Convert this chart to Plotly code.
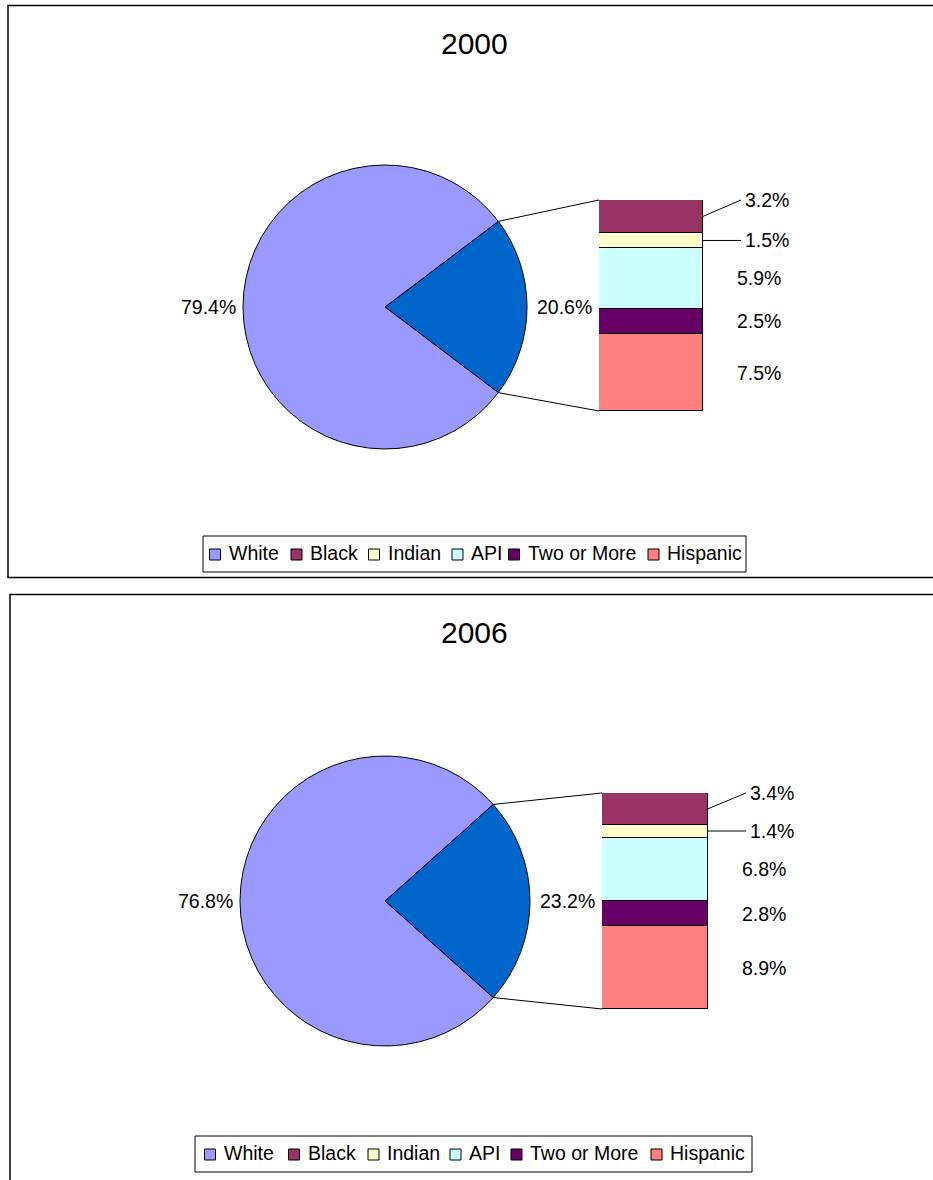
import math
import plotly.graph_objects as go

# ---------------- data ----------------
categories = ["White", "Black", "Indian", "API", "Two or More", "Hispanic"]
colors = ["#9999FF", "#993366", "#FFFFCC", "#CCFFFF", "#660066", "#FF8080"]
other_color = "#0066CC"

years = ["2000", "2006"]
white_share = [79.4, 76.8]
other_share = [20.6, 23.2]
# breakdown of the "other" slice (Black, Indian, API, Two or More, Hispanic)
breakdown_2000 = [3.2, 1.5, 5.9, 2.5, 7.5]
breakdown_2006 = [3.4, 1.4, 6.8, 2.8, 8.9]
breakdowns = [breakdown_2000, breakdown_2006]

# ---------------- layout constants (pixels) ----------------
W, H = 933, 1180
FONT = "Liberation Sans, Arial, sans-serif"
LABEL_SIZE = 19.5
panels = [
    dict(cx=385, cy=307, r=142, bx=(599, 703), by=(200, 411), title_xy=(474, 43),
         border=(8, 5.5, 945, 577.5), legend_box=(203, 746, 536, 572),
         legend_sq=[209.5, 291, 368.5, 452, 508.5, 648]),
    dict(cx=385, cy=901, r=145, bx=(602, 708), by=(793, 1009), title_xy=(474, 632),
         border=(10, 594.5, 945, 1200), legend_box=(195, 752, 1136, 1172),
         legend_sq=[204.5, 288.5, 368, 450, 511, 651]),
]

fig = go.Figure()
shapes = []
annotations = []


def label(x, y, text, anchor="left", size=LABEL_SIZE):
    annotations.append(dict(x=x, y=y, xref="x", yref="y", text=text, showarrow=False,
                            xanchor=anchor, yanchor="middle",
                            font=dict(size=size, color="black", family=FONT)))


for i, (year, wv, ov, parts, P) in enumerate(zip(years, white_share, other_share, breakdowns, panels)):
    cx, cy, r = P["cx"], P["cy"], P["r"]
    # pie
    frac = ov / (ov + wv)
    fig.add_trace(go.Pie(
        values=[ov, wv], labels=["Other", "White"], sort=False, direction="clockwise",
        rotation=90 - frac * 180,
        marker=dict(colors=[other_color, colors[0]], line=dict(color="black", width=1)),
        textinfo="none", showlegend=False, hoverinfo="label+value",
        domain=dict(x=[(cx - r) / W, (cx + r) / W], y=[1 - (cy + r) / H, 1 - (cy - r) / H]),
    ))
    # pie labels
    label(cx - r - 5, cy, f"{wv:.1f}%", anchor="right")
    label(cx + r + 8, cy, f"{ov:.1f}%", anchor="left")

    # stacked bar on its own axis
    ax = i + 2
    xa, ya = f"x{ax}", f"y{ax}"
    total = sum(parts)
    bx0, bx1 = P["bx"]
    by0, by1 = P["by"]
    for name, val, col in reversed(list(zip(categories[1:], parts, colors[1:]))):
        fig.add_trace(go.Bar(x=[0], y=[val], width=1, name=name,
                             marker=dict(color=col, line=dict(color="black", width=1)),
                             xaxis=xa, yaxis=ya, showlegend=False, hoverinfo="name+y"))
    fig.layout[f"xaxis{ax}"] = dict(domain=[bx0 / W, bx1 / W], range=[-0.5, 0.5], visible=False,
                                    fixedrange=True, anchor=ya)
    fig.layout[f"yaxis{ax}"] = dict(domain=[1 - by1 / H, 1 - by0 / H], range=[0, total], visible=False,
                                    fixedrange=True, anchor=xa)

    def ypix(v):
        return by1 - v / total * (by1 - by0)

    cum_from_top = 0
    for k, val in enumerate(parts):
        top_v = total - cum_from_top
        bot_v = top_v - val
        mid = (ypix(top_v) + ypix(bot_v)) / 2
        cum_from_top += val
        if k in (0, 1):
            ly = by0 if k == 0 else mid
            lx = bx1 + 40
            fig.add_trace(go.Scatter(x=[bx1, lx - 2], y=[mid, ly], mode="lines",
                                     line=dict(color="black", width=1), showlegend=False, hoverinfo="skip"))
            label(lx, ly, f"{val:.1f}%")
        else:
            label(bx1 + 32, mid, f"{val:.1f}%")

    # connector lines from pie slice edge to bar corners
    half = frac * math.pi
    for sgn, yb in ((1, by0), (-1, by1)):
        px = cx + r * math.cos(half)
        py = cy - sgn * r * math.sin(half)
        fig.add_trace(go.Scatter(x=[px, bx0], y=[py, yb], mode="lines", line=dict(color="black", width=1),
                                 showlegend=False, hoverinfo="skip"))

    # title
    label(P["title_xy"][0], P["title_xy"][1], year, anchor="center", size=30)
    # panel border
    b = P["border"]
    shapes.append(dict(type="rect", xref="x", yref="y", x0=b[0], y0=b[1], x1=b[2], y1=b[3],
                       line=dict(color="black", width=1.5), layer="below"))
    # legend
    lb = P["legend_box"]
    shapes.append(dict(type="rect", xref="x", yref="y", x0=lb[0], x1=lb[1], y0=lb[2], y1=lb[3],
                       line=dict(color="black", width=1), fillcolor="white", layer="below"))
    lyc = (lb[2] + lb[3]) / 2 - 1
    for name, col, sx in zip(categories, colors, P["legend_sq"]):
        shapes.append(dict(type="rect", xref="x", yref="y", x0=sx, x1=sx + 11, y0=lyc - 4, y1=lyc + 7,
                           line=dict(color="black", width=1), fillcolor=col, layer="above"))
        label(sx + 17, lyc, name)

fig.update_layout(
    width=W, height=H, margin=dict(l=0, r=0, t=0, b=0),
    paper_bgcolor="white", plot_bgcolor="rgba(0,0,0,0)",
    xaxis=dict(range=[0, W], visible=False, domain=[0, 1], fixedrange=True),
    yaxis=dict(range=[H, 0], visible=False, domain=[0, 1], fixedrange=True),
    barmode="stack", bargap=0,
    shapes=shapes, annotations=annotations, showlegend=False,
)

fig.write_html("out.html", config={"displayModeBar": False},
               post_script="document.body.style.margin='0px';")
